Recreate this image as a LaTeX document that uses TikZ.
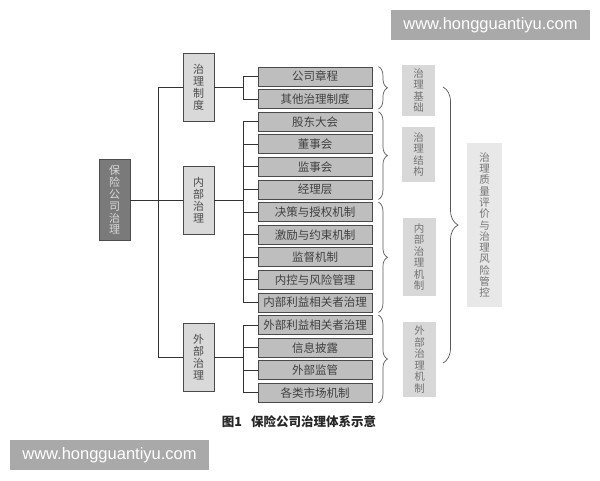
\documentclass[tikz,border=0pt]{standalone}
\usepackage{fontspec}
\usetikzlibrary{decorations.pathreplacing}
\newfontfamily\cjk{Noto Sans CJK SC}
\setsansfont{Liberation Sans}
\definecolor{leaffill}{HTML}{BEBEBE}
\definecolor{lvfill}{HTML}{D9D9D9}
\definecolor{mainfill}{HTML}{7A7A7A}
\definecolor{catfill}{HTML}{D8D8D8}
\definecolor{finfill}{HTML}{E8E8E8}
\definecolor{edge}{HTML}{4A4A4A}
\definecolor{wm}{HTML}{A9A9A9}
\tikzset{
  leaf/.style={draw=edge,line width=0.9pt,fill=leaffill,minimum width=114pt,minimum height=19pt,inner sep=0pt,text=black!75,font=\cjk\fontsize{11.5}{12}\selectfont},
  lvbox/.style={draw=edge,line width=0.9pt,fill=lvfill,minimum width=31pt,minimum height=68pt,inner sep=0pt,align=center,text=black!70,font=\cjk\fontsize{11}{12}\selectfont},
  mainbox/.style={draw=black!70,line width=0.9pt,fill=mainfill,minimum width=31pt,minimum height=81pt,inner sep=0pt,align=center,text=black!15,font=\cjk\fontsize{11}{11.8}\selectfont},
  catbox/.style={fill=catfill,minimum width=33pt,inner sep=0pt,align=center,text=black!55,font=\cjk\fontsize{10.5}{11.5}\selectfont},
  finbox/.style={fill=finfill,minimum width=35pt,minimum height=164pt,inner sep=0pt,align=center,text=black!55,font=\cjk\fontsize{10.5}{11.3}\selectfont},
  conn/.style={draw=black!80,line width=0.9pt},
  brc/.style={draw=black!65,line width=0.7pt,decorate,decoration={brace,amplitude=9pt}},
  bigbrc/.style={draw=black!65,line width=0.7pt,decorate,decoration={brace,amplitude=15pt}},
  wmbox/.style={fill=wm,minimum width=199pt,minimum height=30pt,inner sep=0pt,text=white,font=\sffamily\fontsize{16.5}{18}\selectfont},
}
\begin{document}
\begin{tikzpicture}[x=1pt,y=-1pt]
\useasboundingbox (0,0) rectangle (600,480);
\fill[white] (0,0) rectangle (600,480);

% main
\node[mainbox] (main) at (114.5,200) {保\\险\\公\\司\\治\\理};
% level 2
\node[lvbox] (g1) at (198.5,87) {治\\理\\制\\度};
\node[lvbox] (g2) at (198.5,200) {内\\部\\治\\理};
\node[lvbox] (g3) at (198.5,357) {外\\部\\治\\理};

% leaves
\foreach \i/\t in {0/公司章程,1/其他治理制度,2/股东大会,3/董事会,4/监事会,5/经理层,6/决策与授权机制,7/激励与约束机制,8/监督机制,9/内控与风险管理,10/内部利益相关者治理,11/外部利益相关者治理,12/信息披露,13/外部监管,14/各类市场机制}{
  \node[leaf] (l\i) at (315,{76.5+22.6*\i}) {\t};
}

% spine
\coordinate (sp1) at (158,87);
\coordinate (sp2) at (158,200);
\coordinate (sp3) at (158,357);
\draw[conn] (sp1) -- (sp3);
\draw[conn] (main.east) -- (sp2);
\draw[conn] (sp1) -- (g1.west);
\draw[conn] (sp2) -- (g2.west);
\draw[conn] (sp3) -- (g3.west);

% branches
\coordinate (b1) at (243,87);
\coordinate (b2) at (243,200);
\coordinate (b3) at (243,357);
\draw[conn] (g1.east) -- (b1);
\draw[conn] (g2.east) -- (b2);
\draw[conn] (g3.east) -- (b3);
\draw[conn] (l0.west -| b1) -- (l1.west -| b1);
\draw[conn] (l2.west -| b2) -- (l10.west -| b2);
\draw[conn] (l11.west -| b3) -- (l14.west -| b3);
\foreach \i in {0,1}{\draw[conn] (l\i.west -| b1) -- (l\i.west);}
\foreach \i in {2,...,10}{\draw[conn] (l\i.west -| b2) -- (l\i.west);}
\foreach \i in {11,...,14}{\draw[conn] (l\i.west -| b3) -- (l\i.west);}

% braces
\draw[brc] ([xshift=6pt]l0.north east) -- ([xshift=6pt]l1.south east);
\draw[brc] ([xshift=6pt]l2.north east) -- ([xshift=6pt]l5.south east);
\draw[brc] ([xshift=6pt]l6.north east) -- ([xshift=6pt]l10.south east);
\draw[brc] ([xshift=6pt]l11.north east) -- ([xshift=6pt]l14.south east);

% categories
\node[catbox,minimum height=51pt] (c1) at (418.5,90.5) {治\\理\\基\\础};
\node[catbox,minimum height=55pt] (c2) at (418.5,154.5) {治\\理\\结\\构};
\node[catbox,minimum height=78pt] (c3) at (419,257) {内\\部\\治\\理\\机\\制};
\node[catbox,minimum height=75pt] (c4) at (419.5,359.5) {外\\部\\治\\理\\机\\制};

% big brace
\coordinate (bt) at (443,87);
\coordinate (bb) at (443,363);
\draw[bigbrc] (bt) -- (bb);

% final
\node[finbox] (fin) at (484.5,225) {治\\理\\质\\量\\评\\价\\与\\治\\理\\风\\险\\管\\控};

% caption
\node[font=\cjk\bfseries\fontsize{12.5}{13}\selectfont,text=black!85] (cap) at (299,422) {图1\hspace{9pt}保险公司治理体系示意};

% watermarks
\node[wmbox] (wm1) at (490.5,25) {www.hongguantiyu.com};
\node[wmbox] (wm2) at (109.5,455) {www.hongguantiyu.com};
\end{tikzpicture}
\end{document}
